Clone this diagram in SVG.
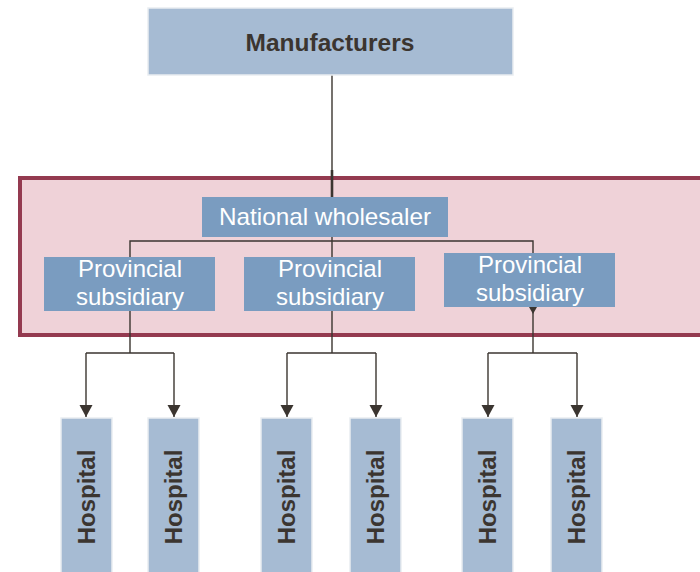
<svg xmlns="http://www.w3.org/2000/svg" width="700" height="572" viewBox="0 0 700 572">
  <style>
    .light { fill: #a6bbd3; stroke: #e9edf1; stroke-width: 1.5; }
    .mid { fill: #7a9cc0; }
    .wire { fill: none; stroke: #3b3530; stroke-width: 1.4; }
    .dark { font-family: "Liberation Sans", Arial, sans-serif; font-weight: bold; fill: #3b3530; }
    .white { font-family: "Liberation Sans", Arial, sans-serif; fill: #ffffff; font-size: 24px; text-anchor: middle; }
  </style>
  <defs>
    <marker id="arrow" markerWidth="14" markerHeight="14" refX="12" refY="6.5" orient="auto" markerUnits="userSpaceOnUse">
      <path d="M0,0 L12,6.5 L0,13 Z" fill="#3b3530"/>
    </marker>
    <marker id="tick" markerWidth="8" markerHeight="8" refX="0" refY="4" orient="auto" markerUnits="userSpaceOnUse">
      <path d="M0,0 L7,4 L0,8 Z" fill="#3b3530"/>
    </marker>
  </defs>

  <rect width="700" height="572" fill="#ffffff"/>

  <!-- distribution frame -->
  <rect id="frame" x="20" y="178" width="690" height="157" fill="#efd2d8" stroke="#943a50" stroke-width="4"/>

  <g id="connectors">
    <line class="wire" x1="332" y1="75" x2="332" y2="178"/>
    <line x1="332" y1="170" x2="332" y2="197" stroke="#3b3530" stroke-width="2.6"/>
    <path class="wire" d="M332,237 V241 M130,257 V241 H533 V253 M332,241 V257"/>
    <path class="wire" d="M130,311 V353 M86,353 H174"/>
    <path class="wire" d="M86,353 V417" marker-end="url(#arrow)"/>
    <path class="wire" d="M174,353 V417" marker-end="url(#arrow)"/>
    <path class="wire" d="M332,311 V353 M287,353 H376"/>
    <path class="wire" d="M287,353 V417" marker-end="url(#arrow)"/>
    <path class="wire" d="M376,353 V417" marker-end="url(#arrow)"/>
    <path class="wire" d="M533,307 V353" marker-start="url(#tick)"/>
    <path class="wire" d="M488,353 H577"/>
    <path class="wire" d="M488,353 V417" marker-end="url(#arrow)"/>
    <path class="wire" d="M577,353 V417" marker-end="url(#arrow)"/>
  </g>

  <g id="manufacturers">
    <rect class="light" x="148" y="8" width="365" height="67"/>
    <text class="dark" x="330" y="51" font-size="24.5" text-anchor="middle">Manufacturers</text>
  </g>

  <g id="national-wholesaler">
    <rect class="mid" x="202" y="197" width="246" height="40"/>
    <text class="white" x="325" y="225" textLength="212" lengthAdjust="spacingAndGlyphs">National wholesaler</text>
  </g>

  <g id="provincial-1">
    <rect class="mid" x="44" y="257" width="171" height="54"/>
    <text class="white" x="130" y="277">Provincial</text>
    <text class="white" x="130" y="305">subsidiary</text>
  </g>
  <g id="provincial-2">
    <rect class="mid" x="244" y="257" width="171" height="54"/>
    <text class="white" x="330" y="277">Provincial</text>
    <text class="white" x="330" y="305">subsidiary</text>
  </g>
  <g id="provincial-3">
    <rect class="mid" x="444" y="253" width="171" height="54"/>
    <text class="white" x="530" y="273">Provincial</text>
    <text class="white" x="530" y="301">subsidiary</text>
  </g>

  <g id="hospital-1">
    <rect class="light" x="61" y="418" width="51" height="160"/>
    <text class="dark" font-size="24" text-anchor="middle" transform="translate(95,497) rotate(-90)">Hospital</text>
  </g>
  <g id="hospital-2">
    <rect class="light" x="148" y="418" width="51" height="160"/>
    <text class="dark" font-size="24" text-anchor="middle" transform="translate(182,497) rotate(-90)">Hospital</text>
  </g>
  <g id="hospital-3">
    <rect class="light" x="261" y="418" width="51" height="160"/>
    <text class="dark" font-size="24" text-anchor="middle" transform="translate(295,497) rotate(-90)">Hospital</text>
  </g>
  <g id="hospital-4">
    <rect class="light" x="350" y="418" width="51" height="160"/>
    <text class="dark" font-size="24" text-anchor="middle" transform="translate(384,497) rotate(-90)">Hospital</text>
  </g>
  <g id="hospital-5">
    <rect class="light" x="462" y="418" width="51" height="160"/>
    <text class="dark" font-size="24" text-anchor="middle" transform="translate(496,497) rotate(-90)">Hospital</text>
  </g>
  <g id="hospital-6">
    <rect class="light" x="551" y="418" width="51" height="160"/>
    <text class="dark" font-size="24" text-anchor="middle" transform="translate(585,497) rotate(-90)">Hospital</text>
  </g>
</svg>
